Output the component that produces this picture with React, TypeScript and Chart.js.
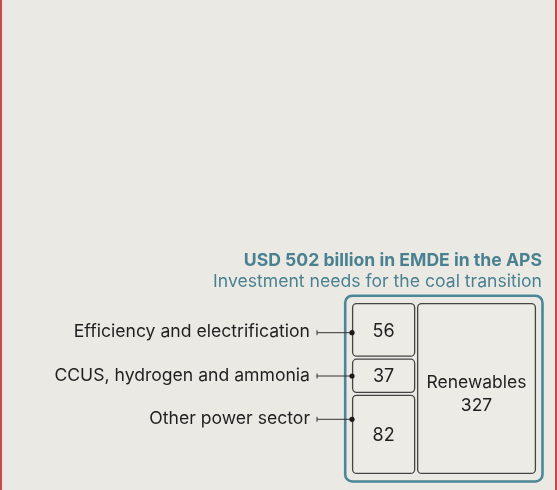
import React, { useEffect, useRef } from "react";
import { Chart, registerables } from "chart.js";

Chart.register(...registerables);

// ---- data ----
const categories = [
  "Efficiency and electrification",
  "CCUS, hydrogen and ammonia",
  "Other power sector",
  "Renewables",
];
const values = [56, 37, 82, 327];
// first three stacked in the left column, the last fills the right column
const leftColumn = [0, 1, 2];
const rightColumn = [3];
const titleText = "USD 502 billion in EMDE in the APS";
const subtitleText = "Investment needs for the coal transition";

const BG = "#EBE9E4";
const TEAL = "#4B8797";
const TITLE_TEAL = "#4A8191";
const BOX_STROKE = "#444444";
const TEXT = "#1f1f1f";
const RED = "#C9494A";
const FONT = "Inter, Roboto, 'Noto Sans', sans-serif";

function roundRect(ctx: CanvasRenderingContext2D, x: number, y: number, w: number, h: number, r: number) {
  ctx.beginPath();
  ctx.moveTo(x + r, y);
  ctx.lineTo(x + w - r, y);
  ctx.arcTo(x + w, y, x + w, y + r, r);
  ctx.lineTo(x + w, y + h - r);
  ctx.arcTo(x + w, y + h, x + w - r, y + h, r);
  ctx.lineTo(x + r, y + h);
  ctx.arcTo(x, y + h, x, y + h - r, r);
  ctx.lineTo(x, y + r);
  ctx.arcTo(x, y, x + r, y, r);
  ctx.closePath();
}

const treemapPlugin = {
  id: "treemapPlugin",
  beforeDraw(chart: any) {
    const { ctx, width, height } = chart;
    ctx.save();
    ctx.fillStyle = BG;
    ctx.fillRect(0, 0, width, height);
    ctx.fillStyle = RED;
    ctx.fillRect(0, 0, 2, height);
    ctx.fillRect(width - 2, 0, 2, height);
    ctx.restore();
  },
  afterDatasetsDraw(chart: any) {
    const { ctx, chartArea } = chart;
    const xs = chart.scales.x;
    const ys = chart.scales.y;
    const gap = 1.5;
    const leftSum = leftColumn.reduce((s, i) => s + values[i], 0);
    const rightSum = rightColumn.reduce((s, i) => s + values[i], 0);

    ctx.save();
    // outer teal frame
    ctx.strokeStyle = TEAL;
    ctx.lineWidth = 2.6;
    roundRect(ctx, chartArea.left - 6.8, chartArea.top - 7.3, chartArea.right - chartArea.left + 13.3, chartArea.bottom - chartArea.top + 14.8, 7);
    ctx.stroke();

    const rects: { x0: number; x1: number; y0: number; y1: number; i: number }[] = [];
    let acc = 0;
    leftColumn.forEach((i) => {
      const f0 = acc / leftSum;
      acc += values[i];
      const f1 = acc / leftSum;
      rects.push({ x0: xs.getPixelForValue(0), x1: xs.getPixelForValue(leftSum), y0: ys.getPixelForValue(f0), y1: ys.getPixelForValue(f1), i });
    });
    acc = 0;
    rightColumn.forEach((i) => {
      const f0 = acc / rightSum;
      acc += values[i];
      const f1 = acc / rightSum;
      rects.push({ x0: xs.getPixelForValue(leftSum), x1: xs.getPixelForValue(leftSum + rightSum), y0: ys.getPixelForValue(f0), y1: ys.getPixelForValue(f1), i });
    });

    rects.forEach((r) => {
      const x0 = r.x0 <= chartArea.left + 0.5 ? r.x0 + 0.6 : r.x0 + gap;
      const x1 = r.x1 >= chartArea.right - 0.5 ? r.x1 - 0.6 : r.x1 - gap;
      const y0 = r.y0 <= chartArea.top + 0.5 ? r.y0 + 0.6 : r.y0 + gap;
      const y1 = r.y1 >= chartArea.bottom - 0.5 ? r.y1 - 0.6 : r.y1 - gap;
      ctx.fillStyle = "#ECEBE6";
      ctx.strokeStyle = BOX_STROKE;
      ctx.lineWidth = 1.3;
      roundRect(ctx, x0, y0, x1 - x0, y1 - y0, 4);
      ctx.fill();
      ctx.stroke();
      const cx = (x0 + x1) / 2;
      const cy = (y0 + y1) / 2;
      ctx.fillStyle = TEXT;
      ctx.textAlign = "center";
      ctx.textBaseline = "middle";
      if (rightColumn.includes(r.i)) {
        ctx.font = `17.5px ${FONT}`;
        ctx.fillText(categories[r.i], cx, cy - 6);
        ctx.fillText(String(values[r.i]), cx, cy + 17);
      } else {
        ctx.font = `18px ${FONT}`;
        ctx.fillText(String(values[r.i]), cx, cy + (r.i === 0 ? 2 : 1));
      }
    });

    // leader labels for the left column
    leftColumn.forEach((i, k) => {
      const y = chartArea.top + 29.7 + k * 43.3;
      const xDot = chartArea.left;
      const xStart = xDot - 35;
      ctx.strokeStyle = "#333";
      ctx.lineWidth = 1;
      ctx.beginPath();
      ctx.moveTo(xStart, y);
      ctx.lineTo(xDot, y);
      ctx.moveTo(xStart, y - 2.5);
      ctx.lineTo(xStart, y + 2.5);
      ctx.stroke();
      ctx.fillStyle = "#1a1a1a";
      ctx.beginPath();
      ctx.arc(xDot, y, 2.6, 0, Math.PI * 2);
      ctx.fill();
      ctx.fillStyle = TEXT;
      ctx.font = `17.6px ${FONT}`;
      ctx.textAlign = "right";
      ctx.textBaseline = "alphabetic";
      ctx.fillText(categories[i], xStart - 7, y + 4.5);
    });

    // title
    ctx.textAlign = "right";
    ctx.textBaseline = "alphabetic";
    ctx.fillStyle = TITLE_TEAL;
    ctx.font = `bold 17.6px ${FONT}`;
    ctx.fillText(titleText, chartArea.right + 6, chartArea.top - 37);
    ctx.font = `17.6px ${FONT}`;
    ctx.fillText(subtitleText, chartArea.right + 6, chartArea.top - 16.5);
    ctx.restore();
  },
};

export default function App() {
  const ref = useRef<HTMLCanvasElement>(null);
  useEffect(() => {
    document.body.style.margin = "0";
    const total = values.reduce((a, b) => a + b, 0);
    const chart = new Chart(ref.current!, {
      type: "scatter",
      data: {
        datasets: [
          {
            label: "Investment (USD billion)",
            data: values.map((v, i) => ({ x: v, y: i / values.length })),
            showLine: false,
            pointRadius: 0,
            pointHoverRadius: 0,
          },
        ],
      },
      options: {
        animation: false,
        responsive: false,
        maintainAspectRatio: false,
        devicePixelRatio: 1,
        layout: { padding: { left: 352, right: 21, top: 303, bottom: 16 } },
        plugins: { legend: { display: false }, tooltip: { enabled: false }, title: { display: false } },
        scales: {
          x: { type: "linear", min: 0, max: total, display: false },
          y: { type: "linear", min: 0, max: 1, reverse: true, display: false },
        },
      },
      plugins: [treemapPlugin],
    });
    return () => chart.destroy();
  }, []);
  return (
    <div style={{ position: "fixed", left: 0, top: 0, width: 557, height: 490, background: BG }}>
      <canvas ref={ref} width={557} height={490} style={{ display: "block", width: 557, height: 490 }} />
    </div>
  );
}
